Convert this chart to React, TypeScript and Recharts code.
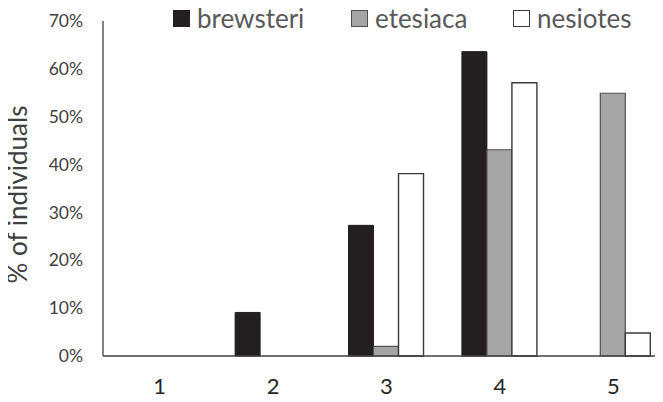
import React from 'react';
import { BarChart, Bar, XAxis, YAxis } from 'recharts';

const categories = ['1', '2', '3', '4', '5'];
const brewsteri = [0, 9.1, 27.3, 63.6, 0];
const etesiaca = [0, 0, 2.0, 43.1, 54.9];
const nesiotes = [0, 0, 38.1, 57.1, 4.8];
const yTicks = [0, 10, 20, 30, 40, 50, 60, 70];

const seriesInfo = [
  { key: 'brewsteri', fill: '#231f20', stroke: '#231f20', width: 1 },
  { key: 'etesiaca', fill: '#a5a5a5', stroke: '#505050', width: 1.2 },
  { key: 'nesiotes', fill: '#ffffff', stroke: '#3a3a3a', width: 1.4 },
];

const legendLeft = [173, 351, 513];

const data = categories.map((c, i) => ({
  cat: c,
  brewsteri: brewsteri[i],
  etesiaca: etesiaca[i],
  nesiotes: nesiotes[i],
}));

const FONT = 'Lato, "Open Sans", sans-serif';
const GRAY = '#595959';
const DARK = '#404040';

const YLabel = (props: any) => {
  const vb = props.viewBox || {};
  const cy = (vb.y || 0) + (vb.height || 0) / 2 + 6;
  const cx = 17;
  return (
    <text
      x={cx}
      y={cy}
      transform={`rotate(-90, ${cx}, ${cy})`}
      textAnchor="middle"
      dominantBaseline="central"
      fill={DARK}
      fontSize={26}
      fontFamily={FONT}
    >
      % of individuals
    </text>
  );
};

export default function App() {
  return (
    <div style={{ margin: -8, width: 663, height: 402, overflow: 'hidden', position: 'relative', background: '#fff' }}>
      {seriesInfo.map((s, i) => (
        <div
          key={s.key}
          style={{
            position: 'absolute',
            top: 2,
            left: legendLeft[i],
            height: 32,
            display: 'flex',
            alignItems: 'center',
            fontFamily: FONT,
            fontSize: 26,
            color: GRAY,
            zIndex: 2,
          }}
        >
          <span
            style={{
              display: 'inline-block',
              width: 15,
              height: 15,
              background: s.fill,
              border: `1.2px solid ${s.stroke}`,
              marginRight: 7,
            }}
          />
          <span>{s.key}</span>
        </div>
      ))}
      <BarChart
        width={680}
        height={402}
        data={data}
        margin={{ top: 21, right: 10, left: 0, bottom: 0 }}
        barGap={0}
        barCategoryGap="16.5%"
      >
        <XAxis
          dataKey="cat"
          axisLine={{ stroke: '#404040', strokeWidth: 1.3 }}
          tickLine={false}
          tickSize={0}
          tickMargin={22}
          height={46}
          tick={{ fill: '#262626', fontSize: 22, fontFamily: FONT }}
        />
        <YAxis
          domain={[0, 70]}
          ticks={yTicks}
          interval={0}
          width={103}
          axisLine={{ stroke: '#404040', strokeWidth: 1.3 }}
          tickLine={false}
          tickSize={0}
          tickMargin={20}
          tickFormatter={(v: number) => `${v}%`}
          tick={{ fill: DARK, fontSize: 17.5, fontFamily: FONT }}
          label={<YLabel />}
        />
        {seriesInfo.map((s) => (
          <Bar
            key={s.key}
            dataKey={s.key}
            fill={s.fill}
            stroke={s.stroke}
            strokeWidth={s.width}
            isAnimationActive={false}
          />
        ))}
      </BarChart>
    </div>
  );
}
